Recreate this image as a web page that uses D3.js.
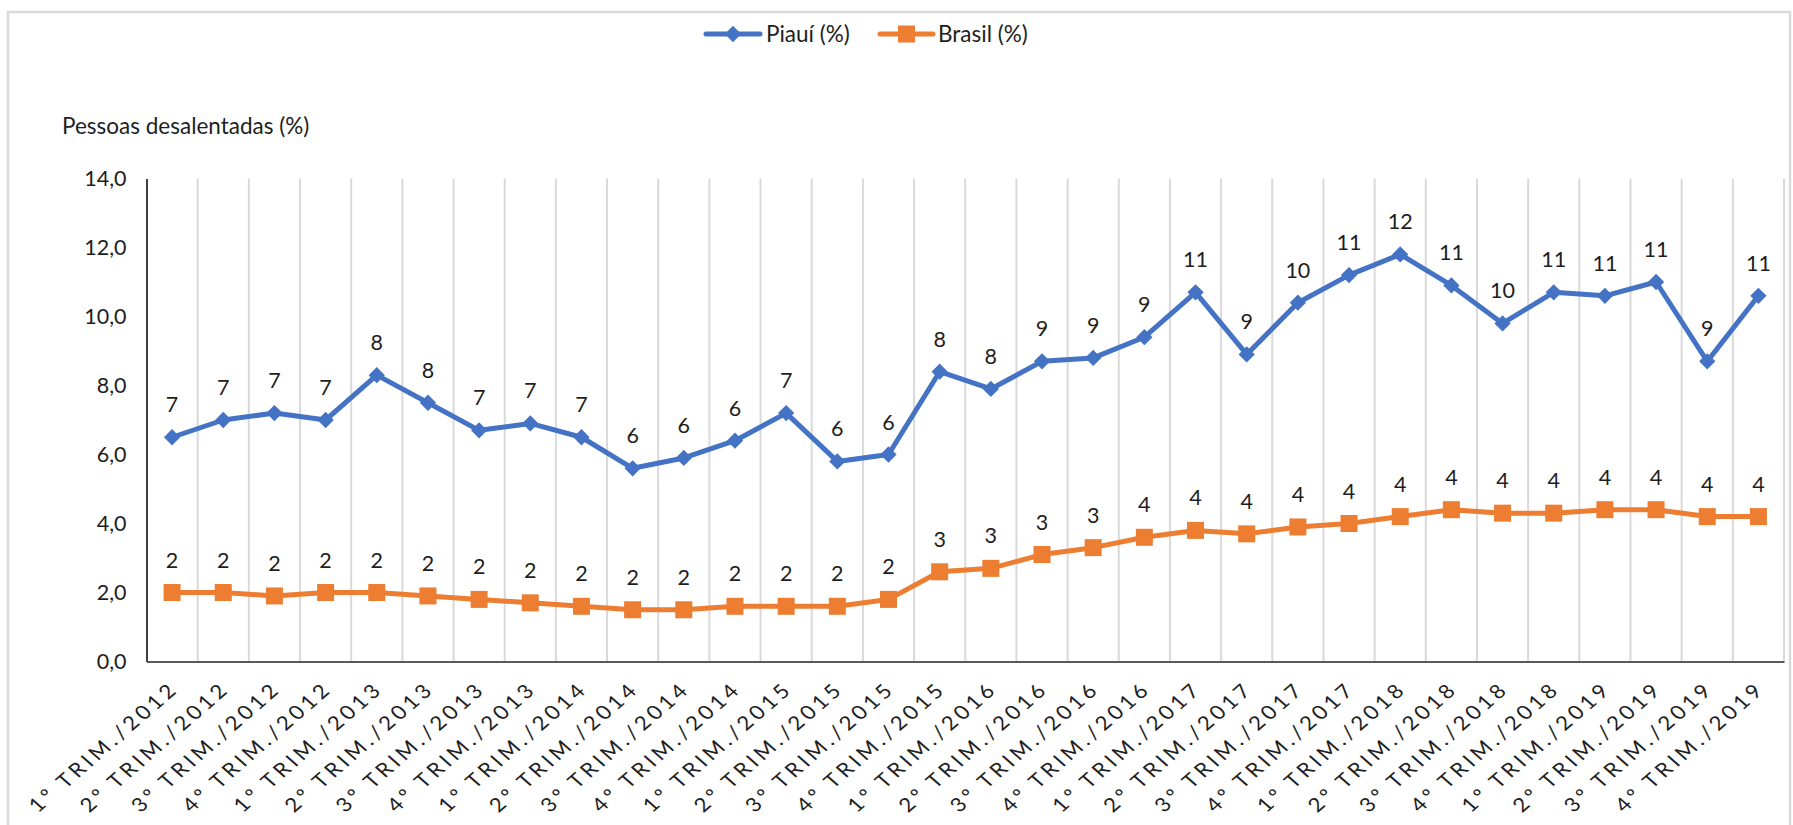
<!DOCTYPE html>
<html><head><meta charset="utf-8">
<script src="https://cdn.jsdelivr.net/npm/d3@7"></script>
<style>body{margin:0;background:#fff;} svg{display:block;font-family:Lato, "Open Sans", sans-serif;}</style>
</head><body><svg id="c" width="1793" height="825"></svg>
<script>
const categories = [
  "1º TRIM./2012","2º TRIM./2012","3º TRIM./2012","4º TRIM./2012",
  "1º TRIM./2013","2º TRIM./2013","3º TRIM./2013","4º TRIM./2013",
  "1º TRIM./2014","2º TRIM./2014","3º TRIM./2014","4º TRIM./2014",
  "1º TRIM./2015","2º TRIM./2015","3º TRIM./2015","4º TRIM./2015",
  "1º TRIM./2016","2º TRIM./2016","3º TRIM./2016","4º TRIM./2016",
  "1º TRIM./2017","2º TRIM./2017","3º TRIM./2017","4º TRIM./2017",
  "1º TRIM./2018","2º TRIM./2018","3º TRIM./2018","4º TRIM./2018",
  "1º TRIM./2019","2º TRIM./2019","3º TRIM./2019","4º TRIM./2019"
];
const piaui = [6.5,7.0,7.2,7.0,8.3,7.5,6.7,6.9,6.5,5.6,5.9,6.4,7.2,5.8,6.0,8.4,
               7.9,8.7,8.8,9.4,10.7,8.9,10.4,11.2,11.8,10.9,9.8,10.7,10.6,11.0,8.7,10.6];
const brasil = [2.0,2.0,1.9,2.0,2.0,1.9,1.8,1.7,1.6,1.5,1.5,1.6,1.6,1.6,1.8,2.6,
                2.7,3.1,3.3,3.6,3.8,3.7,3.9,4.0,4.2,4.4,4.3,4.3,4.4,4.4,4.2,4.2];
const yTicks = [0,2,4,6,8,10,12,14];
const seriesNames = ["Piauí (%)","Brasil (%)"];
const yTitle = "Pessoas desalentadas (%)";

const svg = d3.select("#c");
const pL = 146.5, pR = 1784, pT = 178.5, pB = 661.5;
const blue = "#4472C4", orange = "#ED7D31";
const ink = "#1e1e1e";

const x = d3.scaleBand().domain(categories).range([pL, pR]);
const y = d3.scaleLinear().domain([0,14]).range([pB, pT]);
const cx = d => x(d) + x.bandwidth()/2;
const loc = d3.formatLocale({decimal:",", thousands:".", grouping:[3], currency:["R$",""]});
const fmt = loc.format(".1f");

// outer border
svg.append("rect").attr("x",8).attr("y",12).attr("width",1782).attr("height",830)
  .attr("fill","none").attr("stroke","#d9d9d9").attr("stroke-width",2.5);

// vertical gridlines at category boundaries
const bounds = categories.slice(1).map(c => x(c)).concat([pR]);
svg.append("g").selectAll("line").data(bounds).join("line")
  .attr("x1",d=>d).attr("x2",d=>d).attr("y1",pT).attr("y2",pB)
  .attr("stroke","#d9d9d9").attr("stroke-width",2);

// y axis
const yAxis = d3.axisLeft(y).tickValues(yTicks).tickFormat(fmt).tickSize(0).tickPadding(20);
const gy = svg.append("g").attr("transform",`translate(${pL},0)`).call(yAxis);
gy.select(".domain").attr("stroke","#000").attr("stroke-width",1.5);
gy.selectAll("text").attr("font-size",21.5).attr("fill",ink).attr("font-family","Lato");

// x axis
const xAxis = d3.axisBottom(x).tickSize(0).tickFormat("");
const gx = svg.append("g").attr("transform",`translate(0,${pB})`).call(xAxis);
gx.select(".domain").attr("stroke","#595959").attr("stroke-width",2);

// x labels
svg.append("g").selectAll("text").data(categories).join("text")
  .attr("transform", d => `translate(${cx(d)+5},${pB+31}) scale(1.15,1) rotate(-45)`)
  .attr("text-anchor","end")
  .attr("font-size",19.5).attr("fill",ink)
  .attr("textLength",171).attr("lengthAdjust","spacing")
  .text(d=>d);

// y title
svg.append("text").attr("x",62).attr("y",134).attr("font-size",22.5).attr("fill",ink).text(yTitle);

// lines
const line = d3.line().x((d,i)=>cx(categories[i])).y(d=>y(d));
svg.append("path").datum(brasil).attr("d",line).attr("fill","none")
  .attr("stroke",orange).attr("stroke-width",5).attr("stroke-linejoin","round");
svg.append("path").datum(piaui).attr("d",line).attr("fill","none")
  .attr("stroke",blue).attr("stroke-width",5).attr("stroke-linejoin","round");

const sq = d3.symbol().type(d3.symbolSquare).size(17*17);
const dia = d3.symbol().type(d3.symbolSquare).size(11.5*11.5);

svg.append("g").selectAll("path").data(brasil).join("path")
  .attr("d",sq).attr("fill",orange)
  .attr("transform",(d,i)=>`translate(${cx(categories[i])},${y(d)})`);
svg.append("g").selectAll("path").data(piaui).join("path")
  .attr("d",dia).attr("fill",blue)
  .attr("transform",(d,i)=>`translate(${cx(categories[i])},${y(d)}) rotate(45)`);

// data labels
const lab = (arr) => svg.append("g").selectAll("text").data(arr).join("text")
  .attr("x",(d,i)=>cx(categories[i])).attr("y",d=>y(d)-25)
  .attr("text-anchor","middle").attr("font-size",21.5).attr("fill",ink)
  .text(d=>Math.round(d));
lab(piaui); lab(brasil);

// legend
const lg = svg.append("g");
lg.append("line").attr("x1",706).attr("x2",760).attr("y1",34).attr("y2",34)
  .attr("stroke",blue).attr("stroke-width",5).attr("stroke-linecap","round");
lg.append("path").attr("d",dia).attr("fill",blue).attr("transform","translate(733,34) rotate(45)");
lg.append("text").attr("x",766).attr("y",42).attr("font-size",22.5).attr("fill",ink).text(seriesNames[0]);
lg.append("line").attr("x1",880).attr("x2",933).attr("y1",34).attr("y2",34)
  .attr("stroke",orange).attr("stroke-width",5).attr("stroke-linecap","round");
lg.append("path").attr("d",sq).attr("fill",orange).attr("transform","translate(906.5,34)");
lg.append("text").attr("x",938).attr("y",42).attr("font-size",22.5).attr("fill",ink).text(seriesNames[1]);
</script></body></html>
